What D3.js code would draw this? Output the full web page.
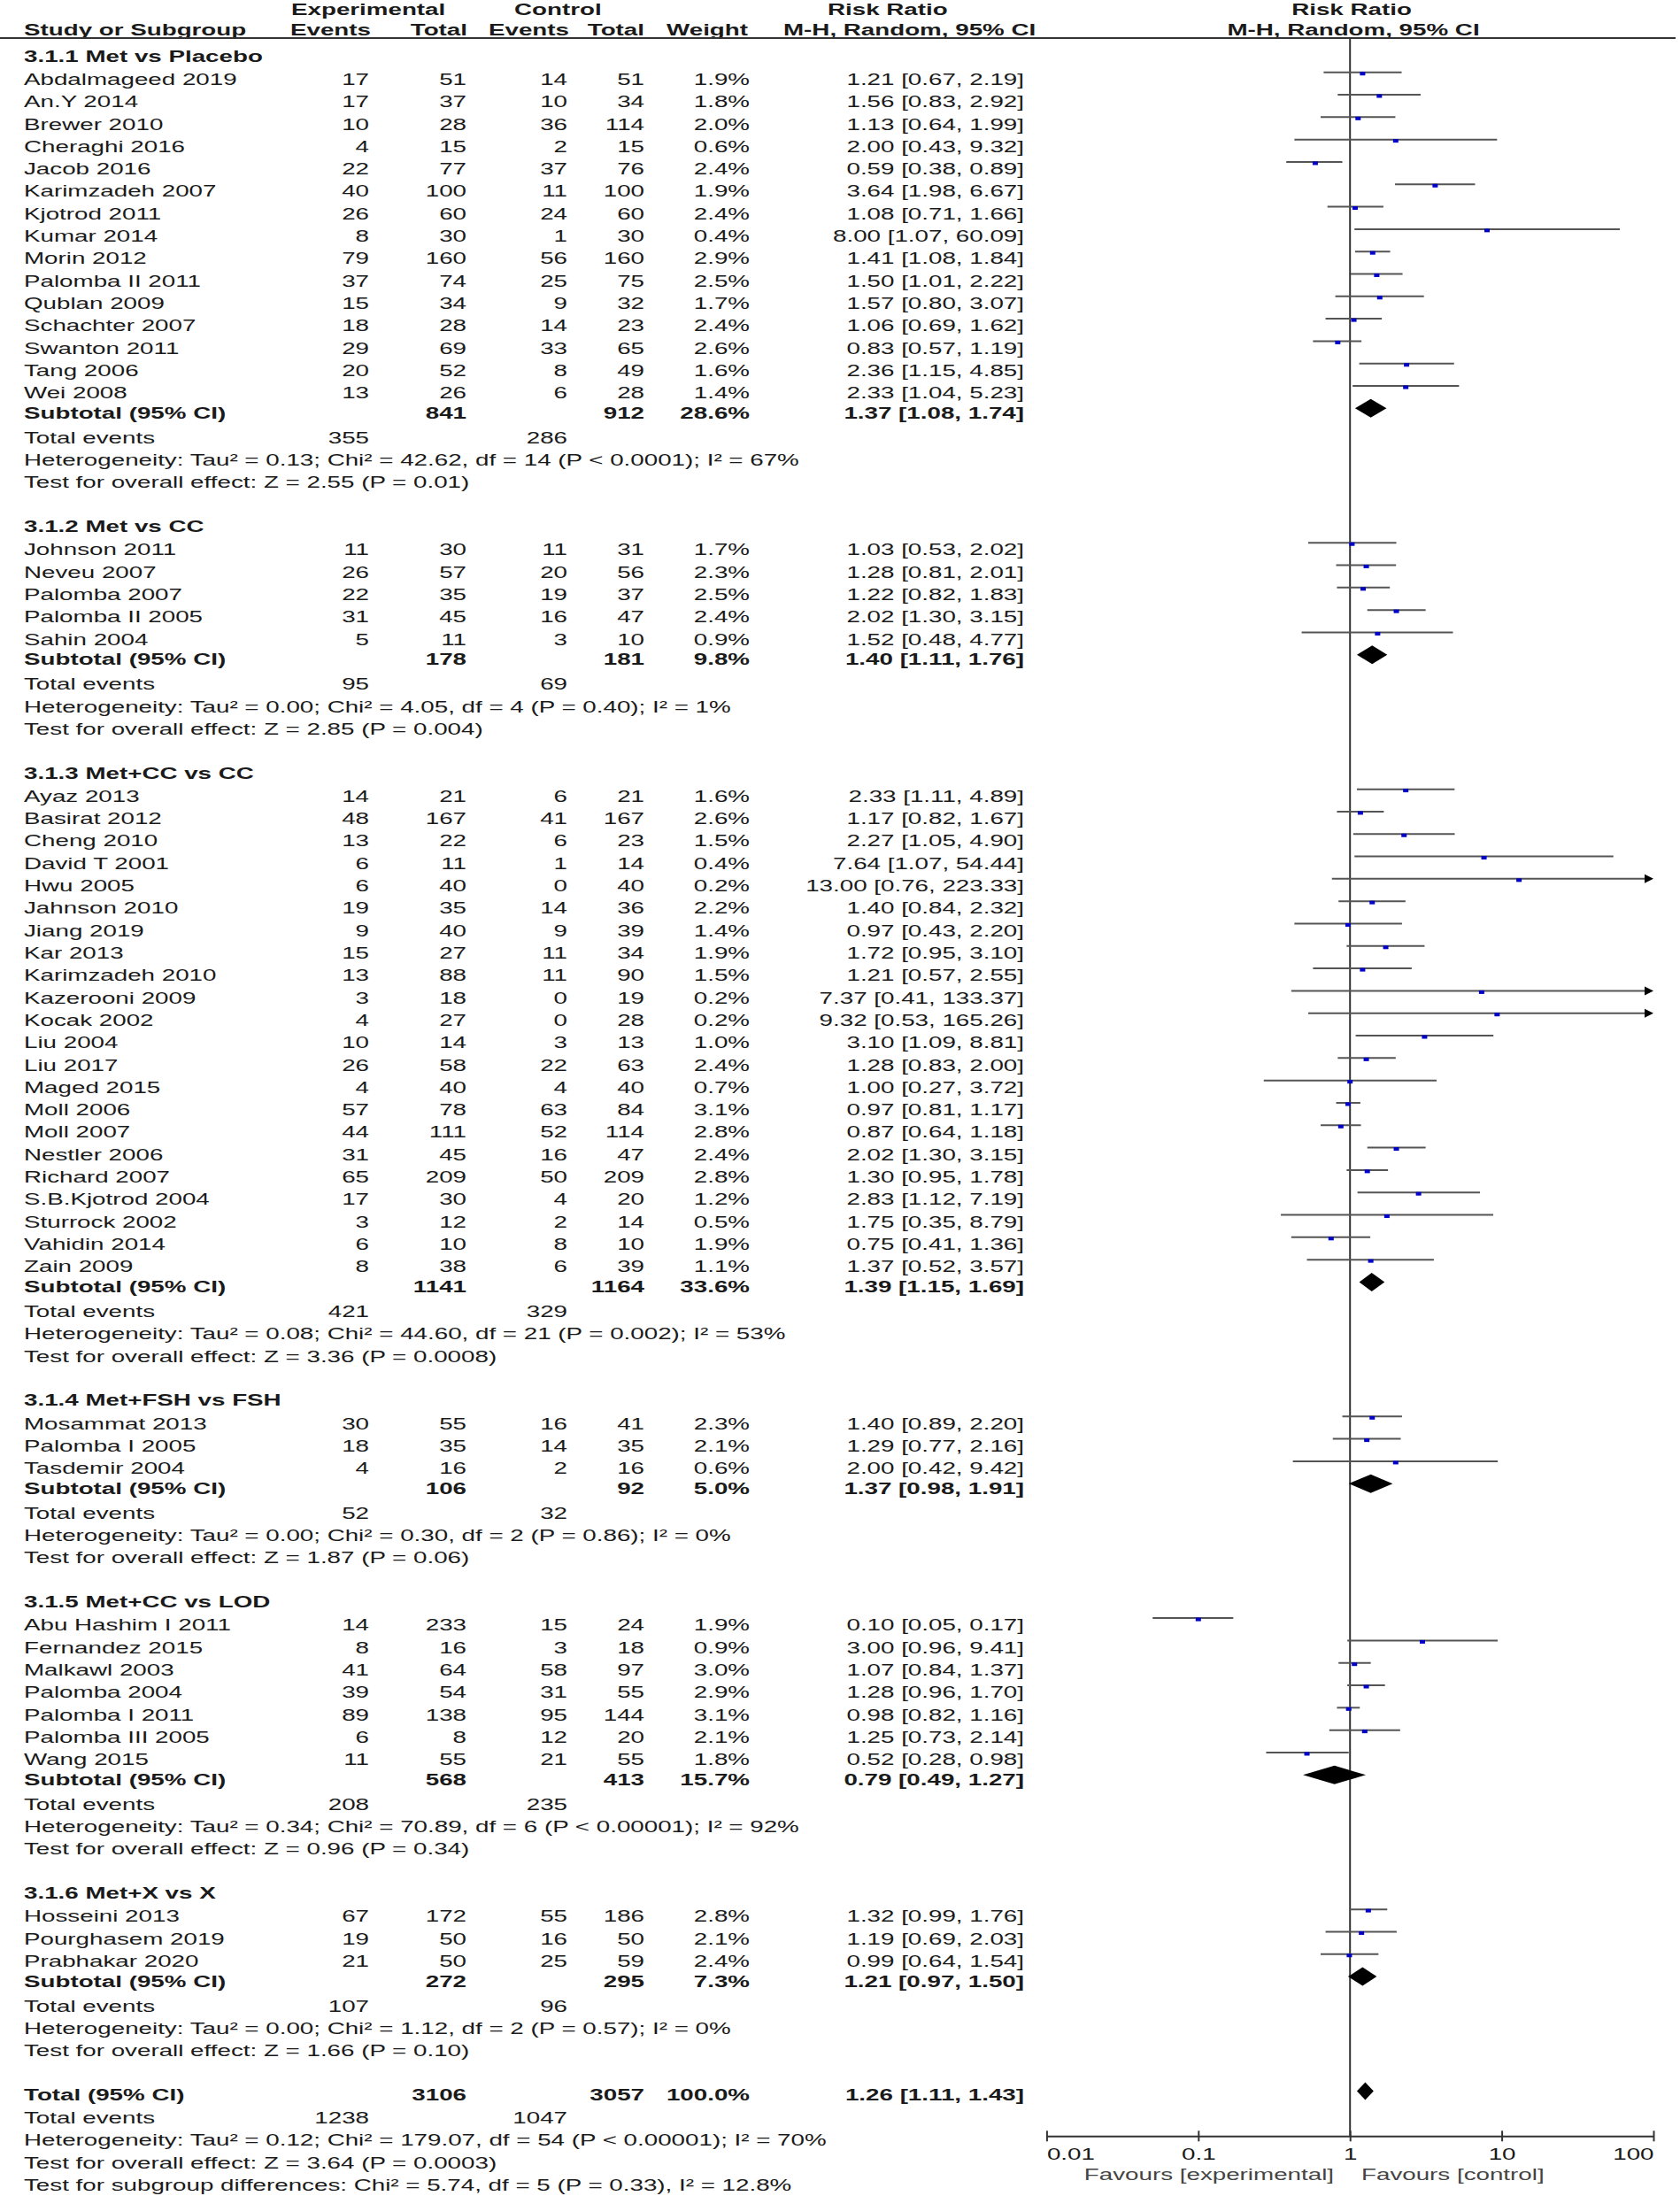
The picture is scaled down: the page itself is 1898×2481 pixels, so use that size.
<!DOCTYPE html>
<html>
<head>
<meta charset="utf-8">
<script src="https://cdn.jsdelivr.net/npm/d3@7"></script>
<style>
body{margin:0;background:#fff;}
svg text{font-family:"Liberation Sans",Arial,sans-serif;font-size:18.5px;fill:#1a1a1a;}
</style>
</head>
<body>
<svg id="chart" width="1898" height="2481"></svg>
<script>

/// Data

var groupNames = ["3.1.1 Met vs Placebo", "3.1.2 Met vs CC", "3.1.3 Met+CC vs CC", "3.1.4 Met+FSH vs FSH", "3.1.5 Met+CC vs LOD", "3.1.6 Met+X vs X"];
var groupSizes = [15, 5, 22, 3, 7, 3];

var studyNames = ["Abdalmageed 2019","An.Y 2014","Brewer 2010","Cheraghi 2016","Jacob 2016","Karimzadeh 2007","Kjotrod 2011","Kumar 2014","Morin 2012","Palomba II 2011","Qublan 2009","Schachter 2007","Swanton 2011","Tang 2006","Wei 2008",
  "Johnson 2011","Neveu 2007","Palomba 2007","Palomba II 2005","Sahin 2004",
  "Ayaz 2013","Basirat 2012","Cheng 2010","David T 2001","Hwu 2005","Jahnson 2010","Jiang 2019","Kar 2013","Karimzadeh 2010","Kazerooni 2009","Kocak 2002","Liu 2004","Liu 2017","Maged 2015","Moll 2006","Moll 2007","Nestler 2006","Richard 2007","S.B.Kjotrod 2004","Sturrock 2002","Vahidin 2014","Zain 2009",
  "Mosammat 2013","Palomba I 2005","Tasdemir 2004",
  "Abu Hashim I 2011","Fernandez 2015","Malkawl 2003","Palomba 2004","Palomba I 2011","Palomba III 2005","Wang 2015",
  "Hosseini 2013","Pourghasem 2019","Prabhakar 2020"];
var expEvents = [17,17,10,4,22,40,26,8,79,37,15,18,29,20,13, 11,26,22,31,5, 14,48,13,6,6,19,9,15,13,3,4,10,26,4,57,44,31,65,17,3,6,8, 30,18,4, 14,8,41,39,89,6,11, 67,19,21];
var expTotals = [51,37,28,15,77,100,60,30,160,74,34,28,69,52,26, 30,57,35,45,11, 21,167,22,11,40,35,40,27,88,18,27,14,58,40,78,111,45,209,30,12,10,38, 55,35,16, 233,16,64,54,138,8,55, 172,50,50];
var ctlEvents = [14,10,36,2,37,11,24,1,56,25,9,14,33,8,6, 11,20,19,16,3, 6,41,6,1,0,14,9,11,11,0,0,3,22,4,63,52,16,50,4,2,8,6, 16,14,2, 15,3,58,31,95,12,21, 55,16,25];
var ctlTotals = [51,34,114,15,76,100,60,30,160,75,32,23,65,49,28, 31,56,37,47,10, 21,167,23,14,40,36,39,34,90,19,28,13,63,40,84,114,47,209,20,14,10,39, 41,35,16, 24,18,97,55,144,20,55, 186,50,59];
var weights = [1.9,1.8,2.0,0.6,2.4,1.9,2.4,0.4,2.9,2.5,1.7,2.4,2.6,1.6,1.4, 1.7,2.3,2.5,2.4,0.9, 1.6,2.6,1.5,0.4,0.2,2.2,1.4,1.9,1.5,0.2,0.2,1.0,2.4,0.7,3.1,2.8,2.4,2.8,1.2,0.5,1.9,1.1, 2.3,2.1,0.6, 1.9,0.9,3.0,2.9,3.1,2.1,1.8, 2.8,2.1,2.4];
var riskRatios = [1.21,1.56,1.13,2.00,0.59,3.64,1.08,8.00,1.41,1.50,1.57,1.06,0.83,2.36,2.33, 1.03,1.28,1.22,2.02,1.52, 2.33,1.17,2.27,7.64,13.00,1.40,0.97,1.72,1.21,7.37,9.32,3.10,1.28,1.00,0.97,0.87,2.02,1.30,2.83,1.75,0.75,1.37, 1.40,1.29,2.00, 0.10,3.00,1.07,1.28,0.98,1.25,0.52, 1.32,1.19,0.99];
var ciLow = [0.67,0.83,0.64,0.43,0.38,1.98,0.71,1.07,1.08,1.01,0.80,0.69,0.57,1.15,1.04, 0.53,0.81,0.82,1.30,0.48, 1.11,0.82,1.05,1.07,0.76,0.84,0.43,0.95,0.57,0.41,0.53,1.09,0.83,0.27,0.81,0.64,1.30,0.95,1.12,0.35,0.41,0.52, 0.89,0.77,0.42, 0.05,0.96,0.84,0.96,0.82,0.73,0.28, 0.99,0.69,0.64];
var ciHigh = [2.19,2.92,1.99,9.32,0.89,6.67,1.66,60.09,1.84,2.22,3.07,1.62,1.19,4.85,5.23, 2.02,2.01,1.83,3.15,4.77, 4.89,1.67,4.90,54.44,223.33,2.32,2.20,3.10,2.55,133.37,165.26,8.81,2.00,3.72,1.17,1.18,3.15,1.78,7.19,8.79,1.36,3.57, 2.20,2.16,9.42, 0.17,9.41,1.37,1.70,1.16,2.14,0.98, 1.76,2.03,1.54];

var subExpTotals = [841,178,1141,106,568,272];
var subCtlTotals = [912,181,1164,92,413,295];
var subWeights = [28.6,9.8,33.6,5.0,15.7,7.3];
var subRR = [1.37,1.40,1.39,1.37,0.79,1.21];
var subLow = [1.08,1.11,1.15,0.98,0.49,0.97];
var subHigh = [1.74,1.76,1.69,1.91,1.27,1.50];
var subExpEvents = [355,95,421,52,208,107];
var subCtlEvents = [286,69,329,32,235,96];
var hetTexts = [
  "Heterogeneity: Tau\u00b2 = 0.13; Chi\u00b2 = 42.62, df = 14 (P < 0.0001); I\u00b2 = 67%",
  "Heterogeneity: Tau\u00b2 = 0.00; Chi\u00b2 = 4.05, df = 4 (P = 0.40); I\u00b2 = 1%",
  "Heterogeneity: Tau\u00b2 = 0.08; Chi\u00b2 = 44.60, df = 21 (P = 0.002); I\u00b2 = 53%",
  "Heterogeneity: Tau\u00b2 = 0.00; Chi\u00b2 = 0.30, df = 2 (P = 0.86); I\u00b2 = 0%",
  "Heterogeneity: Tau\u00b2 = 0.34; Chi\u00b2 = 70.89, df = 6 (P < 0.00001); I\u00b2 = 92%",
  "Heterogeneity: Tau\u00b2 = 0.00; Chi\u00b2 = 1.12, df = 2 (P = 0.57); I\u00b2 = 0%"];
var effectTexts = [
  "Test for overall effect: Z = 2.55 (P = 0.01)",
  "Test for overall effect: Z = 2.85 (P = 0.004)",
  "Test for overall effect: Z = 3.36 (P = 0.0008)",
  "Test for overall effect: Z = 1.87 (P = 0.06)",
  "Test for overall effect: Z = 0.96 (P = 0.34)",
  "Test for overall effect: Z = 1.66 (P = 0.10)"];

var totalTotals = [3106, 3057];
var totalEvents = [1238, 1047];
var totalEffect = [1.26, 1.11, 1.43];
var totalTexts = [
  "Heterogeneity: Tau\u00b2 = 0.12; Chi\u00b2 = 179.07, df = 54 (P < 0.00001); I\u00b2 = 70%",
  "Test for overall effect: Z = 3.64 (P = 0.0003)",
  "Test for subgroup differences: Chi\u00b2 = 5.74, df = 5 (P = 0.33), I\u00b2 = 12.8%"];

var axisTicks = [0.01, 0.1, 1, 10, 100];
var axisLabels = ["0.01", "0.1", "1", "10", "100"];


/// Layout

var svg = d3.select("#chart");
svg.append("rect").attr("width", 1898).attr("height", 2481).attr("fill", "#fff");

var SX = 1.5;          // the text in the source is stretched sideways
var ROW = 25.31;
var TOP = 63;
var col = {name: 27, expEv: 417, expTot: 527, ctlEv: 641, ctlTot: 728, weight: 847, ci: 1157};

var x = d3.scaleLog().domain([0.01, 100]).range([1182.4, 1868]);
var axisY = 2413.3;

function rowY(i){ return TOP + i*ROW; }

function label(px, py, str, anchor, bold, color){
	var t = svg.append("text")
		.attr("transform", "translate(" + px + "," + py + ") scale(" + SX + ",1)")
		.attr("text-anchor", anchor || "start")
		.text(str);
	if(bold){ t.style("font-weight", "bold"); }
	if(color){ t.style("fill", color); }
	return t;
}

function ciText(rr, lo, hi){
	return rr.toFixed(2) + " [" + lo.toFixed(2) + ", " + hi.toFixed(2) + "]";
}

function diamond(rr, lo, hi, cy, h){
	svg.append("path")
		.attr("d", "M" + x(lo) + "," + cy + "L" + x(rr) + "," + (cy - h) + "L" + x(hi) + "," + cy + "L" + x(rr) + "," + (cy + h) + "Z")
		.attr("fill", "#000");
}


/// Header

label(329, 17, "Experimental", "start", true);
label(581, 17, "Control", "start", true);
label(935, 17, "Risk Ratio", "start", true);
label(1527, 17, "Risk Ratio", "middle", true);
label(27, 40, "Study or Subgroup", "start", true);
label(419, 40, "Events", "end", true);
label(528, 40, "Total", "end", true);
label(643, 40, "Events", "end", true);
label(728, 40, "Total", "end", true);
label(845, 40, "Weight", "end", true);
label(885, 40, "M-H, Random, 95% CI", "start", true);
label(1529, 40, "M-H, Random, 95% CI", "middle", true);

svg.append("line").attr("x1", 0).attr("x2", 1893).attr("y1", 43).attr("y2", 43)
	.attr("stroke", "#333").attr("stroke-width", 2);

// line of no effect
svg.append("line").attr("x1", x(1)).attr("x2", x(1)).attr("y1", 43).attr("y2", axisY)
	.attr("stroke", "#333").attr("stroke-width", 2);


/// Rows

var BASE = 6.6;   // text baseline below row centre
var MARK = -6.6;  // plot marks sit above row centre
var row = 0;
var s = 0;

for(var g = 0; g < groupNames.length; g++){
	label(col.name, rowY(row) + BASE, groupNames[g], "start", true);
	row++;

	for(var k = 0; k < groupSizes[g]; k++, s++, row++){
		var ty = rowY(row) + BASE + 1;
		label(col.name, ty, studyNames[s]);
		label(col.expEv, ty, expEvents[s], "end");
		label(col.expTot, ty, expTotals[s], "end");
		label(col.ctlEv, ty, ctlEvents[s], "end");
		label(col.ctlTot, ty, ctlTotals[s], "end");
		label(col.weight, ty, weights[s].toFixed(1) + "%", "end");
		label(col.ci, ty, ciText(riskRatios[s], ciLow[s], ciHigh[s]), "end");

		var my = rowY(row) + MARK;
		var clipped = ciHigh[s] > 100;
		var hiX = clipped ? x(100) - 10 : x(ciHigh[s]);
		svg.append("line").attr("x1", x(ciLow[s])).attr("x2", hiX).attr("y1", my).attr("y2", my)
			.attr("stroke", "#555").attr("stroke-width", 2);
		if(clipped){
			svg.append("path")
				.attr("d", "M" + x(100) + "," + my + "L" + (x(100) - 10) + "," + (my - 5) + "L" + (x(100) - 10) + "," + (my + 5) + "Z")
				.attr("fill", "#000");
		}
		svg.append("rect").attr("x", x(riskRatios[s]) - 3).attr("y", my - 0.5).attr("width", 6).attr("height", 4)
			.attr("fill", "#0000c8");
	}

	// subtotal
	var sy = rowY(row) + BASE - 1.5;
	label(col.name, sy, "Subtotal (95% CI)", "start", true);
	label(col.expTot, sy, subExpTotals[g], "end", true);
	label(col.ctlTot, sy, subCtlTotals[g], "end", true);
	label(col.weight, sy, subWeights[g].toFixed(1) + "%", "end", true);
	label(col.ci, sy, ciText(subRR[g], subLow[g], subHigh[g]), "end", true);
	diamond(subRR[g], subLow[g], subHigh[g], rowY(row) + MARK, 10.5);
	row++;

	var ey = rowY(row) + BASE + 1;
	label(col.name, ey, "Total events");
	label(col.expEv, ey, subExpEvents[g], "end");
	label(col.ctlEv, ey, subCtlEvents[g], "end");
	row++;
	label(col.name, rowY(row) + BASE + 1, hetTexts[g]);
	row++;
	label(col.name, rowY(row) + BASE + 1, effectTexts[g]);
	row += 2;
}

// overall
var oy = rowY(row) + BASE;
label(col.name, oy, "Total (95% CI)", "start", true);
label(col.expTot, oy, totalTotals[0], "end", true);
label(col.ctlTot, oy, totalTotals[1], "end", true);
label(col.weight, oy, "100.0%", "end", true);
label(col.ci, oy, ciText(totalEffect[0], totalEffect[1], totalEffect[2]), "end", true);
diamond(totalEffect[0], totalEffect[1], totalEffect[2], rowY(row) + MARK + 3, 10);
row++;
label(col.name, rowY(row) + BASE + 1, "Total events");
label(col.expEv, rowY(row) + BASE + 1, totalEvents[0], "end");
label(col.ctlEv, rowY(row) + BASE + 1, totalEvents[1], "end");
row++;
for(var t = 0; t < totalTexts.length; t++, row++){
	label(col.name, rowY(row) + BASE + 1, totalTexts[t]);
}


/// Axis

var axis = d3.axisBottom(x)
	.tickValues(axisTicks)
	.tickFormat(function(d, i){ return axisLabels[i]; })
	.tickSizeInner(6)
	.tickSizeOuter(0);

var ax = svg.append("g").attr("transform", "translate(0," + axisY + ")").call(axis);
ax.select(".domain").attr("stroke", "#333").attr("stroke-width", 2);
ax.selectAll(".tick line").attr("y1", -6).attr("y2", 6).attr("stroke", "#333").attr("stroke-width", 2);
ax.selectAll(".tick text")
	.attr("y", 27).attr("dy", 0)
	.attr("transform", "scale(" + SX + ",1)")
	.attr("font-size", null)
	.attr("font-family", null)
	.style("fill", "#1a1a1a")
	.attr("text-anchor", function(d, i){ return i == 0 ? "start" : (i == axisTicks.length - 1 ? "end" : "middle"); });

label(1507, axisY + 50, "Favours [experimental]", "end", false, "#444");
label(1538, axisY + 50, "Favours [control]", "start", false, "#444");

</script>
</body>
</html>
